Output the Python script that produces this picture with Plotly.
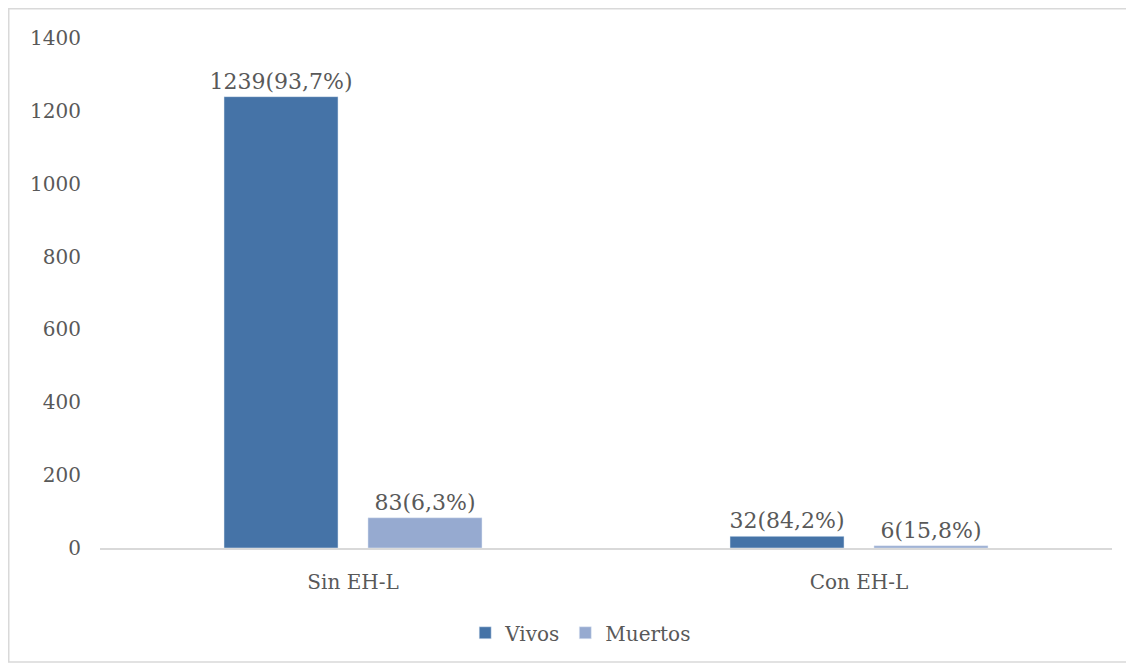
import plotly.graph_objects as go

categories = ["Sin EH-L", "Con EH-L"]
vivos = [1239, 32]
muertos = [83, 6]
vivos_labels = ["1239(93,7%)", "32(84,2%)"]
muertos_labels = ["83(6,3%)", "6(15,8%)"]
y_ticks = [0, 200, 400, 600, 800, 1000, 1200, 1400]

font_family = "DejaVu Serif"
text_color = "#595959"

fig = go.Figure()
fig.add_trace(go.Bar(
    name="Vivos", x=categories, y=vivos, text=vivos_labels,
    textposition="outside", marker_color="#4573a7", constraintext="none",
    textfont=dict(size=22, color=text_color, family=font_family),
    cliponaxis=False,
))
fig.add_trace(go.Bar(
    name="Muertos", x=categories, y=muertos, text=muertos_labels,
    textposition="outside", marker_color="#96aad0", constraintext="none",
    textfont=dict(size=22, color=text_color, family=font_family),
    cliponaxis=False,
))

# page has an 8px body margin, so the figure is offset by 8px
W, H = 1126, 658
L, R, T, B = 92, 22, 30, 118
pw, ph = W - L - R, H - T - B

fig.update_layout(
    width=W, height=H,
    margin=dict(l=L, r=R, t=T, b=B, autoexpand=False),
    barmode="group", bargap=0.431, bargroupgap=0.208,
    plot_bgcolor="white", paper_bgcolor="white",
    font=dict(family=font_family, color=text_color, size=20),
    showlegend=True,
    legend=dict(orientation="h", x=0.475, xanchor="center", y=-0.128, yanchor="top",
                font=dict(size=20, color=text_color, family=font_family),
                itemwidth=30, traceorder="normal"),
    xaxis=dict(showgrid=False, showline=True, linecolor="#d9d9d9", linewidth=1.5,
               ticks="", tickfont=dict(size=20, color=text_color),
               ticklabelstandoff=15, automargin=False),
    yaxis=dict(range=[0, 1400], tickvals=y_ticks, showgrid=False, zeroline=False,
               showline=False, ticks="", tickfont=dict(size=20, color=text_color),
               ticklabelstandoff=18, automargin=False),
)

# outer border of the chart area (figure pixel coords -> paper coords)
x0 = (0.75 - L) / pw
x1 = (1124 - L) / pw
y1 = (H - B - 0.75) / ph
y0 = (H - B - 654) / ph
fig.add_shape(type="rect", xref="paper", yref="paper", x0=x0, x1=x1, y0=y0, y1=y1,
              line=dict(color="#d9d9d9", width=1.5), fillcolor="rgba(0,0,0,0)", layer="below")

fig.write_html("out.html")
